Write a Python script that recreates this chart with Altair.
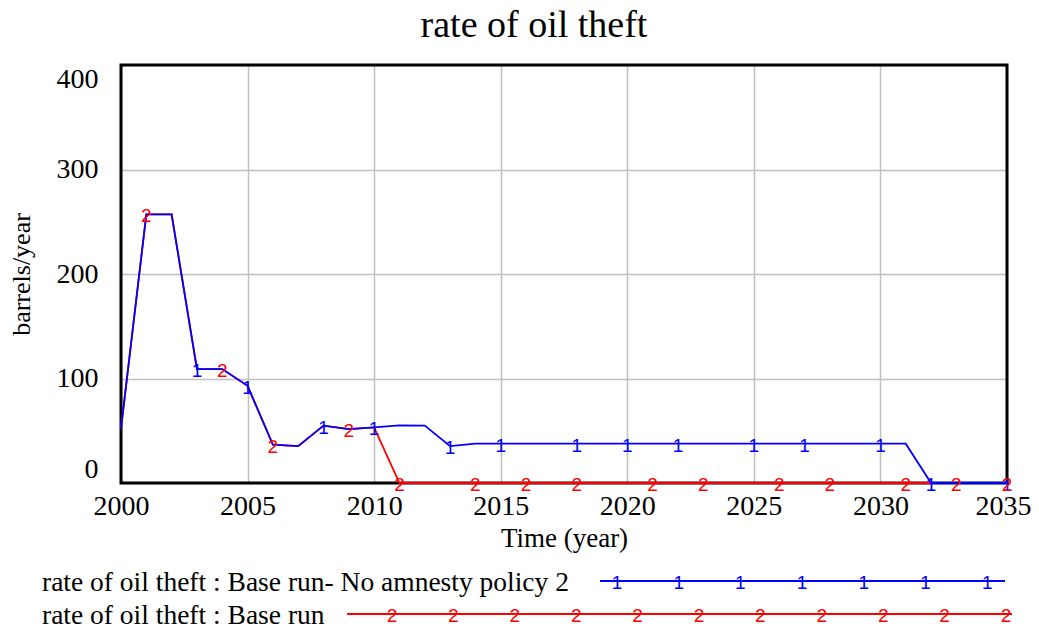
import altair as alt
import pandas as pd

# ---------------- data ----------------
years = list(range(2000, 2036))

no_amnesty = [52, 257, 257, 109, 109, 93, 36.6, 35.3, 54.9, 51.6, 53.2,
              55.2, 55, 35.3, 37.6, 37.6, 37.6, 37.6, 37.6, 37.6, 37.6,
              37.6, 37.6, 37.6, 37.6, 37.6, 37.6, 37.6, 37.6, 37.6, 37.6,
              37.6, 0, 0, 0, 0]

base_run = [52, 257, 257, 109, 109, 93, 36.6, 35.3, 54.9, 51.6, 53.2,
            0, 0, 0, 0, 0, 0, 0, 0, 0, 0, 0, 0, 0, 0, 0, 0, 0, 0, 0, 0,
            0, 0, 0, 0, 0]

marker_years_1 = [2003, 2005, 2008, 2010, 2013, 2015, 2018, 2020, 2022,
                  2025, 2027, 2030, 2032, 2035]
marker_years_2 = [2001, 2004, 2006, 2009, 2011, 2014, 2016, 2018, 2021,
                  2023, 2026, 2028, 2031, 2033, 2035]

x_ticks = [2000, 2005, 2010, 2015, 2020, 2025, 2030, 2035]
y_ticks = [0, 100, 200, 300, 400]

label_1 = "rate of oil theft : Base run- No amnesty policy 2"
label_2 = "rate of oil theft : Base run"

# ---------------- tables ----------------
df1 = pd.DataFrame({"Year": years, "Value": no_amnesty})
df2 = pd.DataFrame({"Year": years, "Value": base_run})
m1 = df1[df1["Year"].isin(marker_years_1)].assign(t="1")
m2 = df2[df2["Year"].isin(marker_years_2)].assign(t="2")

SERIF = "Liberation Serif"
SANS = "Liberation Sans"
BLUE = "#0000ff"
RED = "#ff0000"
W, H = 886, 418

x_enc = alt.X(
    "Year:Q",
    scale=alt.Scale(domain=[2000, 2035], nice=False, zero=False),
    axis=alt.Axis(
        values=x_ticks, format="d", title="Time (year)",
        labelFont=SERIF, labelFontSize=28, labelColor="black",
        labelPadding=9, labelFlush=False, tickSize=0, domain=False,
        labelOffset={"condition": {"test": "datum.value == 2035", "value": -4}, "value": 0},
        grid=True, gridColor="#c0c0c0", gridWidth=1.5,
        titleFont=SERIF, titleFontSize=27, titleFontWeight="normal",
        titleColor="black", titlePadding=5,
    ),
)
y_enc = alt.Y(
    "Value:Q",
    scale=alt.Scale(domain=[0, 400], nice=False),
    axis=alt.Axis(
        values=y_ticks, title="barrels/year",
        labelFont=SERIF, labelFontSize=28, labelColor="black",
        labelPadding=23, labelFlush=True, tickSize=0, domain=False,
        grid=True, gridColor="#c0c0c0", gridWidth=1.5,
        titleFont=SERIF, titleFontSize=26, titleFontWeight="normal",
        titleColor="black", titlePadding=22,
    ),
)

# black frame around the plot area (drawn over the grid, under the lines)
frame = alt.Chart(pd.DataFrame({"a": [0]})).mark_rect(
    fill=None, stroke="black", strokeWidth=3
).encode(x=alt.value(0), x2=alt.value(W), y=alt.value(0), y2=alt.value(H))

line2 = alt.Chart(df2).mark_line(color=RED, strokeWidth=1.8).encode(x=x_enc, y=y_enc)
line1 = alt.Chart(df1).mark_line(color=BLUE, strokeWidth=1.8).encode(x=x_enc, y=y_enc)
txt1 = alt.Chart(m1).mark_text(font=SANS, fontSize=19, color=BLUE, baseline="middle", dy=2).encode(
    x=x_enc, y=y_enc, text="t:N")
txt2 = alt.Chart(m2).mark_text(font=SANS, fontSize=19, color=RED, baseline="middle", dy=2).encode(
    x=x_enc, y=y_enc, text="t:N")

# ---------------- legend (drawn below the plot) ----------------
LEG_Y1, LEG_Y2 = 516, 549
leg_text1 = alt.Chart(pd.DataFrame({"t": [label_1]})).mark_text(
    font=SERIF, fontSize=27.5, align="left", baseline="middle", color="black"
).encode(x=alt.value(-79), y=alt.value(LEG_Y1 + 2), text="t:N")
leg_text2 = alt.Chart(pd.DataFrame({"t": [label_2]})).mark_text(
    font=SERIF, fontSize=27.5, align="left", baseline="middle", color="black"
).encode(x=alt.value(-79), y=alt.value(LEG_Y2 + 2), text="t:N")

leg_rule1 = alt.Chart(pd.DataFrame({"a": [0]})).mark_rule(color=BLUE, strokeWidth=1.8).encode(
    x=alt.value(479), x2=alt.value(884), y=alt.value(LEG_Y1))
leg_rule2 = alt.Chart(pd.DataFrame({"a": [0]})).mark_rule(color=RED, strokeWidth=1.8).encode(
    x=alt.value(226), x2=alt.value(891), y=alt.value(LEG_Y2))

leg_m1 = pd.DataFrame({"px": [496 + 61.7 * i for i in range(7)], "t": ["1"] * 7})
leg_m2 = pd.DataFrame({"px": [271 + 61.4 * i for i in range(11)], "t": ["2"] * 11})
leg_mk1 = alt.Chart(leg_m1).mark_text(font=SANS, fontSize=19, color=BLUE, baseline="middle", dy=2).encode(
    x=alt.X("px:Q", scale=None, axis=None), y=alt.value(LEG_Y1), text="t:N")
leg_mk2 = alt.Chart(leg_m2).mark_text(font=SANS, fontSize=19, color=RED, baseline="middle", dy=2).encode(
    x=alt.X("px:Q", scale=None, axis=None), y=alt.value(LEG_Y2), text="t:N")

chart = alt.layer(
    frame, line2, line1, txt1, txt2,
    leg_rule1, leg_rule2, leg_mk1, leg_mk2, leg_text1, leg_text2,
).properties(
    width=W,
    height=H,
    autosize=alt.AutoSizeParams(type="none"),
    padding={"left": 113, "top": 57, "right": 24, "bottom": 152},
    title=alt.TitleParams(
        "rate of oil theft", font=SERIF, fontSize=38, fontWeight="normal",
        color="black", anchor="middle", dx=-30, offset=19,
    ),
).configure_view(stroke=None)

chart.save("out.html", embed_options={"renderer": "svg", "actions": False})
